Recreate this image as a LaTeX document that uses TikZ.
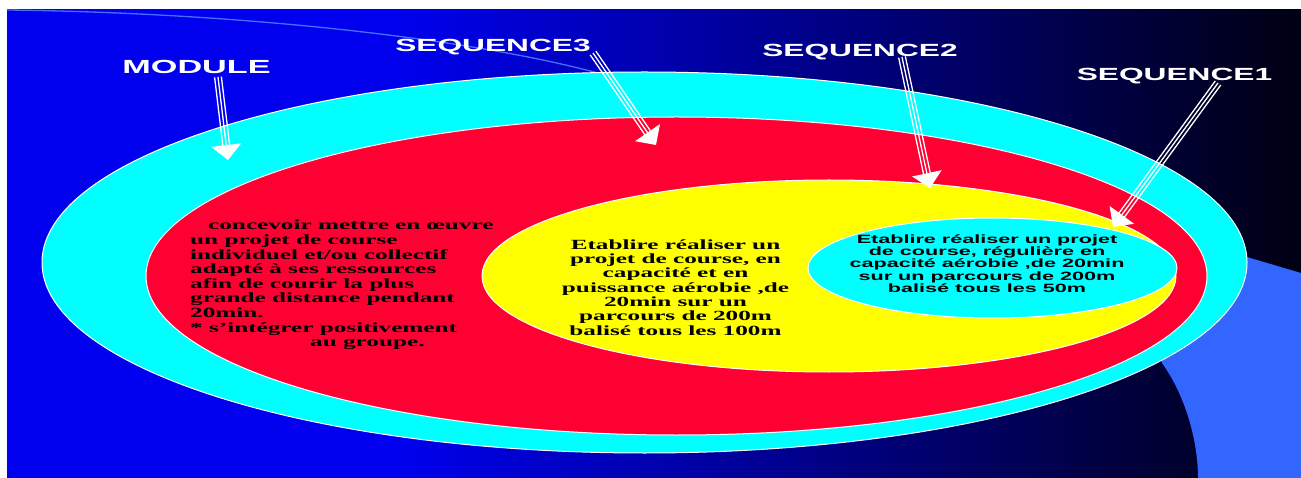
\documentclass[tikz,border=0pt]{standalone}
\usepackage{fontspec}
\setmainfont{Liberation Serif}[FakeStretch=1.8]
\newfontfamily\sansx{Liberation Sans}[FakeStretch=1.8]
\usetikzlibrary{calc,arrows.meta}
\definecolor{bgA}{RGB}{0,0,238}
\definecolor{bgB}{RGB}{0,0,18}
\definecolor{cyanx}{RGB}{0,255,255}
\definecolor{redx}{RGB}{255,0,51}
\definecolor{yellowx}{RGB}{255,255,0}
\definecolor{lblue}{RGB}{51,102,255}
\definecolor{curvec}{RGB}{70,110,255}
\pgfdeclarehorizontalshading{bgshade}{100bp}{color(0bp)=(bgA); color(40bp)=(bgA); color(75bp)=(bgB); color(100bp)=(bgB)}
\newcommand{\triarrow}[2]{%
  \draw[shaft,shorten >=14pt] ($(#1)!3.4pt!90:(#2)$) -- ($(#2)!3.4pt!-90:(#1)$);
  \draw[shaft,shorten >=14pt] ($(#1)!3.4pt!-90:(#2)$) -- ($(#2)!3.4pt!90:(#1)$);
  \draw[shaft,-{Triangle[width=30pt,length=15pt]}] (#1) -- (#2);
}
\tikzset{
  ring/.style={draw=white, line width=1pt},
  shaft/.style={draw=white, fill=white, line width=1.3pt},
  lab/.style={text=white, inner sep=0pt, font={\sansx\bfseries\fontsize{17.6}{18}\selectfont}},
  txt/.style={inner sep=0pt, text=black},
}
\begin{document}
\begin{tikzpicture}[x=1pt,y=-1pt]
\useasboundingbox (0,0) rectangle (1301,478);
\fill[white] (0,0) rectangle (1301,478);
\shade[shading=bgshade] (7,10) rectangle (1301,478);
% light blue shape at right
\fill[lblue] (1162,363) .. controls (1185,395) and (1198,440) .. (1198,478)
  -- (1301,478) -- (1301,273) -- (1240,255) -- (1150,300) -- cycle;
% thin curve
\draw[curvec, line width=1.3pt] (7,10) .. controls (250,13) and (480,40) .. (605,75);
% ellipses
\draw[ring, fill=cyanx] (644.5,262.5) ellipse [x radius=602.5pt, y radius=190.5pt];
\draw[ring, fill=redx] (676.5,276) ellipse [x radius=530.5pt, y radius=159pt];
\draw[ring, fill=yellowx] (829,276) ellipse [x radius=347pt, y radius=96pt];
\draw[ring, fill=cyanx] (992.5,268) ellipse [x radius=184.5pt, y radius=50pt];
% texts
\node[txt, anchor=base west] (modtext) at (190,230) {\parbox[t]{330pt}{\raggedright\bfseries\fontsize{14}{14.6}\selectfont
\hspace*{18pt}concevoir mettre en œuvre\\
un projet de course\\
individuel et/ou collectif\\
adapté à ses ressources\\
afin de courir la plus\\
grande distance pendant\\
20min.\\
{*} s’intégrer positivement\\
\hspace*{120pt}au groupe.}};
\node[txt, anchor=base] (s3text) at (675.5,249.3) {\parbox[t]{320pt}{\centering\bfseries\fontsize{14}{14.3}\selectfont
Etablire réaliser un\\
projet de course, en\\
capacité et en\\
puissance aérobie ,de\\
20min sur un\\
parcours de 200m\\
balisé tous les 100m}};
\node[txt, anchor=base] (s1text) at (987,243.3) {\parbox[t]{340pt}{\centering\sansx\bfseries\fontsize{12}{12.35}\selectfont
Etablire réaliser un projet\\
de course, régulière en\\
capacité aérobie ,de 20min\\
sur un parcours de 200m\\
balisé tous les 50m}};
% labels
\node[lab, anchor=base, font={\sansx\bfseries\fontsize{19}{20}\selectfont}] (module) at (196.5,73.5) {MODULE};
\node[lab, anchor=base] (seq3) at (493,51.7) {SEQUENCE3};
\node[lab, anchor=base] (seq2) at (860,56.7) {SEQUENCE2};
\node[lab, anchor=base] (seq1) at (1174.5,80.7) {SEQUENCE1};
% arrows
\coordinate (mS) at (218,77);   \coordinate (mT) at (228,160);
\coordinate (s3S) at (593,53);  \coordinate (s3T) at (656,145);
\coordinate (s2S) at (902,57);  \coordinate (s2T) at (930,188);
\coordinate (s1S) at (1218,83); \coordinate (s1T) at (1113,227);
\triarrow{mS}{mT}
\triarrow{s3S}{s3T}
\triarrow{s2S}{s2T}
\triarrow{s1S}{s1T}
\end{tikzpicture}
\end{document}
